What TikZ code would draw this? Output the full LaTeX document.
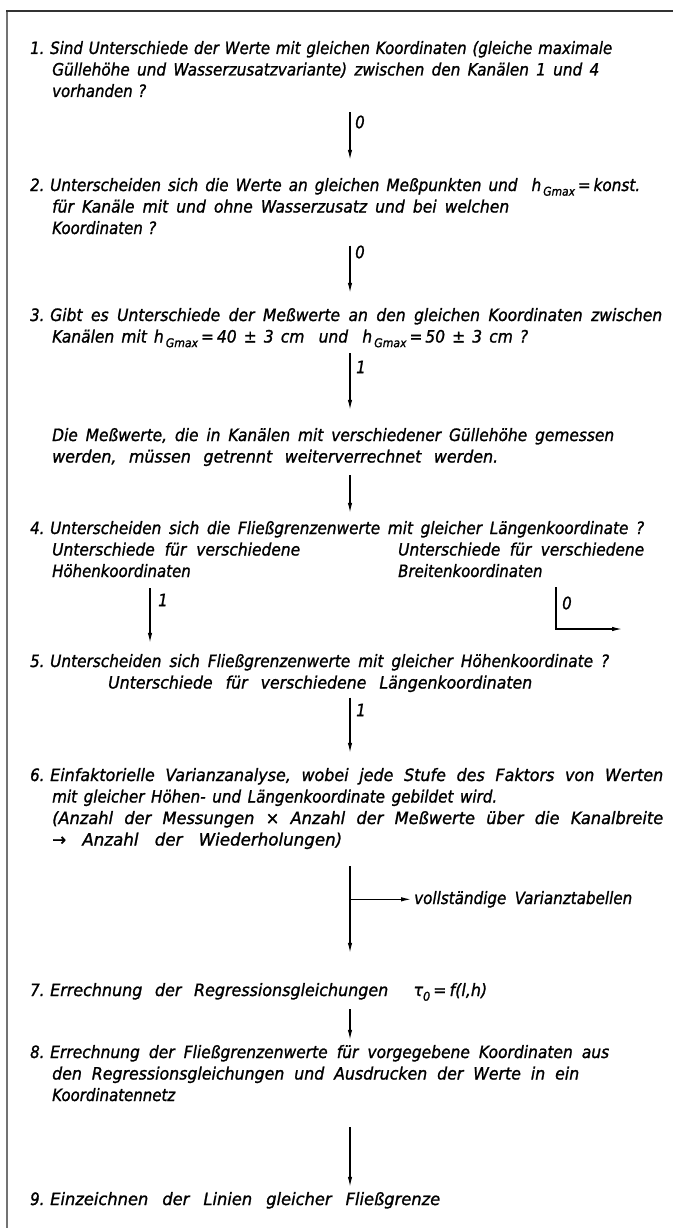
\documentclass[tikz,border=0pt]{standalone}
\usepackage{graphicx}
\usepackage{fontspec}
\setmainfont{DejaVu Sans}[FakeStretch=0.88,FakeBold=1.2]
\usetikzlibrary{arrows.meta}
\newcommand\hGm{h\kern2pt\raisebox{-0.5ex}{\fontsize{12}{12}\selectfont Gmax}}
\newcommand\tauz{τ\raisebox{-0.5ex}{\fontsize{12}{12}\selectfont 0}}
\newcommand\ind{\hspace*{22pt}}
\newcommand\nr[1]{\makebox[20pt][l]{#1}}
\newcommand\lwsp{\frenchspacing\spaceskip=0.3333em plus 1em minus 0.15em\xspaceskip=0pt\relax}
\newsavebox\lwbox
% line of given width: half of the change by letter width, half by word spacing
\newcommand\lw[2]{\sbox\lwbox{\lwsp #2}%
  \pgfmathsetmacro\lwr{sqrt(#1/\the\wd\lwbox)}%
  \pgfmathsetmacro\lww{#1/\lwr}%
  \scalebox{\lwr}[1]{\makebox[\lww pt][s]{\lwsp #2}}}
\begin{document}
\begin{tikzpicture}[x=1pt,y=-1pt,
  blk/.style={anchor=base west,inner sep=0pt,text width=680pt,align=left,
    font=\fontsize{17}{21.5}\selectfont\itshape},
  lbl/.style={anchor=west,inner sep=0pt,font=\fontsize{17}{21.5}\selectfont\itshape},
  arr/.style={line width=1.2pt,-{Latex[length=10pt,width=4.5pt]}},
  topframe/.style={line width=1.6pt,black!80},
  sideframe/.style={line width=1.5pt,black!55}]
\useasboundingbox (0,0) rectangle (673,1228);
\draw[sideframe] (7,1228) -- (7,11);
\draw[topframe] (6.25,11) -- (673,11);
\coordinate (ax) at (350,0);

\node[blk] (b1) at (30,54) {\strut\nr{1.}\lw{562}{Sind Unterschiede der Werte mit gleichen Koordinaten (gleiche maximale}\\
\ind\lw{547}{Güllehöhe und Wasserzusatzvariante) zwischen den Kanälen 1 und 4}\\
\ind vorhanden ?\strut};

\node[blk] (b2) at (30,191) {\strut\nr{2.}\lw{590}{Unterscheiden sich die Werte an gleichen Meßpunkten und \ \hGm\,=\,konst.}\\
\ind\lw{457}{für Kanäle mit und ohne Wasserzusatz und bei welchen}\\
\ind Koordinaten ?\strut};

\node[blk] (b3) at (30,321) {\strut\nr{3.}\lw{612}{Gibt es Unterschiede der Meßwerte an den gleichen Koordinaten zwischen}\\
\ind\lw{476}{Kanälen mit \hGm\,=\,40 ± 3 cm \ und \ \hGm\,=\,50 ± 3 cm ?}\strut};

\node[blk] (bd) at (52,441) {\strut\lw{562}{Die Meßwerte, die in Kanälen mit verschiedener Güllehöhe gemessen}\\
\lw{446}{werden, müssen getrennt weiterverrechnet werden.}\strut};

\node[blk] (b4) at (30,534) {\strut\nr{4.}\lw{594}{Unterscheiden sich die Fließgrenzenwerte mit gleicher Längenkoordinate ?}\strut};
\node[blk,text width=260pt] (b4l) at (52,555.5) {\strut\lw{248}{Unterschiede für verschiedene}\\
Höhenkoordinaten\strut};
\node[blk,text width=270pt] (b4r) at (398,555.5) {\strut\lw{246}{Unterschiede für verschiedene}\\
Breitenkoordinaten\strut};

\node[blk] (b5) at (30,667) {\strut\nr{5.}\lw{559}{Unterscheiden sich Fließgrenzenwerte mit gleicher Höhenkoordinate ?}\\
\hspace*{78pt}\lw{424}{Unterschiede für verschiedene Längenkoordinaten}\strut};

\node[blk] (b6) at (30,781) {\strut\nr{6.}\lw{613}{Einfaktorielle Varianzanalyse, wobei jede Stufe des Faktors von Werten}\\
\ind\lw{445}{mit gleicher Höhen- und Längenkoordinate gebildet wird.}\\
\ind\lw{611}{(Anzahl der Messungen × Anzahl der Meßwerte über die Kanalbreite}\\
\ind\lw{290}{→ Anzahl der Wiederholungen)}\strut};

\node[lbl,anchor=base west] (vt) at (414,904) {\lw{218}{vollständige Varianztabellen}};

\node[blk] (b7) at (30,996) {\strut\nr{7.}\lw{437}{Errechnung der Regressionsgleichungen \ \tauz\,=\,f(l,h)}\strut};

\node[blk] (b8) at (30,1058) {\strut\nr{8.}\lw{559}{Errechnung der Fließgrenzenwerte für vorgegebene Koordinaten aus}\\
\ind\lw{527}{den Regressionsgleichungen und Ausdrucken der Werte in ein}\\
\ind Koordinatennetz\strut};

\node[blk] (b9) at (30,1205) {\strut\nr{9.}\lw{390}{Einzeichnen der Linien gleicher Fließgrenze}\strut};

% connectors
\draw[arr,shorten <=8.5pt,shorten >=16pt] (b1.south -| ax) -- (b2.north -| ax);
\node[lbl] (l1) at (355,122) {0};
\draw[arr,shorten <=5pt,shorten >=13pt] (b2.south -| ax) -- (b3.north -| ax);
\node[lbl] (l2) at (355,252) {0};
\draw[arr,shorten <=4pt,shorten >=16pt] (b3.south -| ax) -- (bd.north -| ax);
\node[lbl] (l3) at (356,367) {1};
\draw[arr,shorten <=6pt,shorten >=6pt] (bd.south -| ax) -- (b4.north -| ax);

\coordinate (lx) at (150,0);
\draw[arr,shorten <=4.5pt,shorten >=9pt] (b4l.south -| lx) -- (b5.north -| lx);
\node[lbl] (l4) at (158,600) {1};
\coordinate (rc) at (556,629);
\coordinate (rend) at (622,629);
\draw[arr,shorten <=3.5pt] (b4r.south -| rc) -- (rc) -- (rend);
\node[lbl] (l5) at (562,603) {0};

\draw[arr,shorten <=2.5pt,shorten >=13pt] (b5.south -| ax) -- (b6.north -| ax);
\node[lbl] (l6) at (356,710) {1};

\draw[arr,shorten <=14pt,shorten >=28pt] (b6.south -| ax) -- (b7.north -| ax);
\draw[arr,shorten >=3pt] (vt.west -| ax) -- (vt.west);

\draw[arr,shorten <=6.5pt,shorten >=3pt] (b7.south -| ax) -- (b8.north -| ax);
\draw[arr,shorten <=19.5pt,shorten >=3pt] (b8.south -| ax) -- (b9.north -| ax);
\end{tikzpicture}
\end{document}
